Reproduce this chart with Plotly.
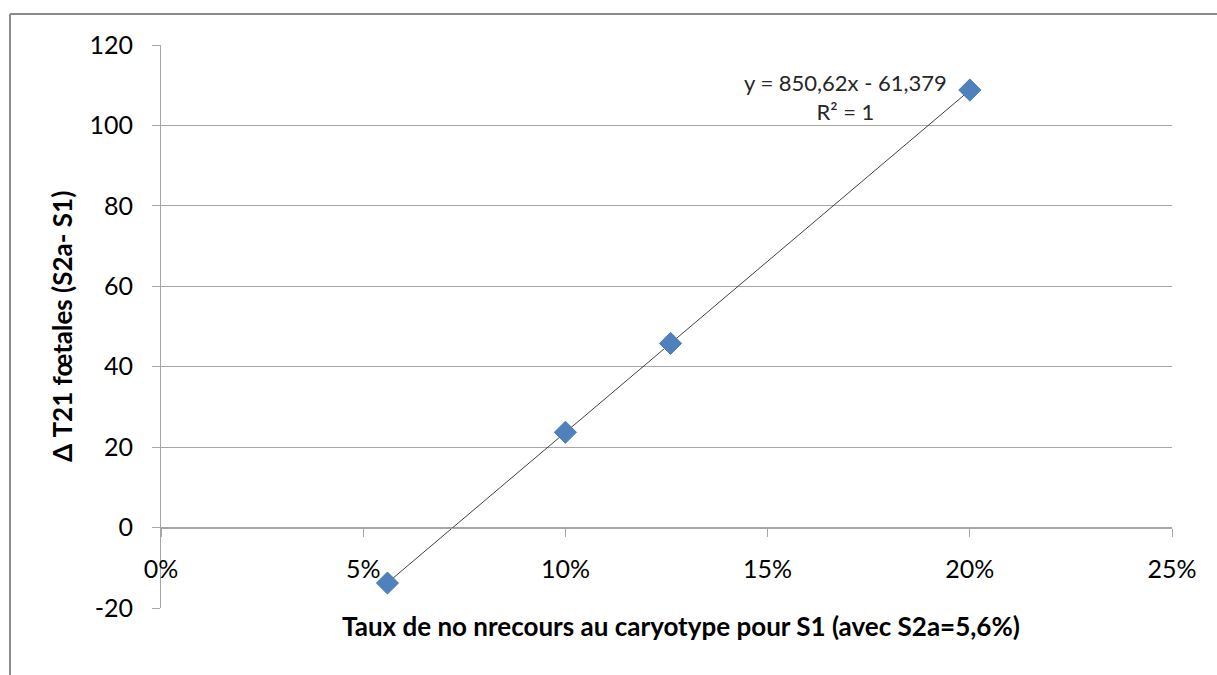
import numpy as np
import plotly.graph_objects as go

# Taux de non-recours au caryotype pour S1 vs écart de T21 foetales
taux_s1 = [0.056, 0.10, 0.126, 0.20]
delta_t21 = [-13.8, 23.7, 45.8, 108.8]

# Linear trend as reported on the chart
pente = 850.62
ordonnee = -61.379
equation = "y = 850,62x - 61,379<br>R² = 1"

x_ticks = [0, 0.05, 0.10, 0.15, 0.20, 0.25]
x_labels = ["0%", "5%", "10%", "15%", "20%", "25%"]
y_ticks = [-20, 0, 20, 40, 60, 80, 100, 120]
y_labels = ["-20", "0", "20", "40", "60", "80", "100", "120"]

FONT = "Lato, 'Open Sans', sans-serif"
GRID = "#a6a6a6"

# pixel layout of the plotting area
W, H = 1217, 675
L, R, T, B = 161, 45, 45, 67
pw, ph = W - L - R, H - T - B


def px_x(p):
    return (p - L) / pw


def px_y(p):
    return (H - B - p) / ph


x_trend = np.array([min(taux_s1), max(taux_s1)])
y_trend = pente * x_trend + ordonnee

fig = go.Figure()
fig.add_trace(go.Scatter(
    x=x_trend, y=y_trend, mode="lines",
    line=dict(color="#404040", width=1),
    hoverinfo="skip", showlegend=False,
))
fig.add_trace(go.Scatter(
    x=taux_s1, y=delta_t21, mode="markers",
    marker=dict(symbol="diamond", size=17, color="#4f81bd",
                line=dict(color="#4a7ab3", width=1)),
    showlegend=False,
))

fig.update_layout(
    width=W, height=H,
    margin=dict(l=L, r=R, t=T, b=B),
    paper_bgcolor="white", plot_bgcolor="white",
    font=dict(family=FONT, size=25, color="#000000"),
    showlegend=False,
    xaxis=dict(
        range=[0, 0.25], tickvals=x_ticks, ticktext=x_labels,
        anchor="free", position=20 / 140,
        showline=True, linecolor=GRID, linewidth=1,
        ticks="outside", ticklen=8, tickcolor=GRID,
        showgrid=False, zeroline=False,
        ticklabelstandoff=11,
        tickfont=dict(size=25, family=FONT, color="#000000"),
    ),
    yaxis=dict(
        range=[-20, 120], tickvals=y_ticks, ticktext=y_labels, domain=[0, 1],
        showline=True, linecolor=GRID, linewidth=1,
        ticks="outside", ticklen=8, tickcolor=GRID,
        showgrid=True, gridcolor=GRID, gridwidth=1,
        zeroline=False,
        ticklabelstandoff=14,
        tickfont=dict(size=25, family=FONT, color="#000000"),
    ),
)

fig.add_annotation(
    x=px_x(681), y=px_y(626), xref="paper", yref="paper",
    text="<b>Taux de no nrecours au caryotype pour S1 (avec S2a=5,6%)</b>",
    showarrow=False, xanchor="center", yanchor="middle",
    font=dict(size=26, family=FONT, color="#000000"),
)
fig.add_annotation(
    x=px_x(62), y=px_y(327), xref="paper", yref="paper",
    text="<b>Δ T21 fœtales (S2a- S1)</b>", textangle=-90,
    showarrow=False, xanchor="center", yanchor="middle",
    font=dict(size=26, family=FONT, color="#000000"),
)
fig.add_annotation(
    x=px_x(845), y=px_y(97), xref="paper", yref="paper",
    text=equation, showarrow=False, align="center",
    xanchor="center", yanchor="middle",
    font=dict(size=22, family=FONT, color="#262626"),
)

# chart frame
fig.add_shape(type="line", xref="paper", yref="paper",
              x0=px_x(10), x1=px_x(10), y0=px_y(14), y1=px_y(H + 5),
              line=dict(color="#8c8c8c", width=2))
fig.add_shape(type="line", xref="paper", yref="paper",
              x0=px_x(10), x1=px_x(W + 5), y0=px_y(14), y1=px_y(14),
              line=dict(color="#8c8c8c", width=2))

fig.write_html("out.html")
